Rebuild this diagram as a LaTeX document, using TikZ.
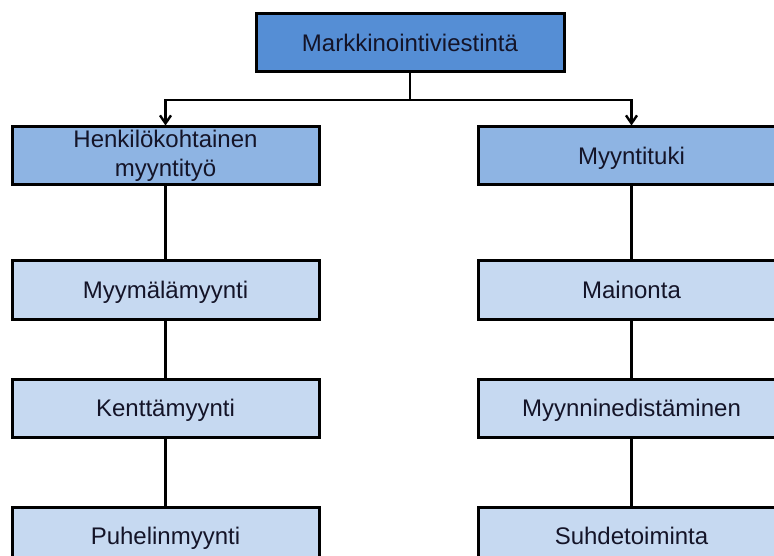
\documentclass[tikz,border=0pt]{standalone}
\usepackage{fontspec}
\setmainfont{Liberation Sans}
\usetikzlibrary{arrows.meta}
\definecolor{topfill}{RGB}{85,142,213}
\definecolor{midfill}{RGB}{142,180,227}
\definecolor{leaffill}{RGB}{198,217,241}
\definecolor{txt}{RGB}{20,20,40}
\tikzset{
  box/.style={draw=black, line width=3pt, minimum width=307pt, minimum height=58pt,
    inner sep=0pt, align=center, text=txt, font=\fontsize{24}{29}\selectfont},
  oneline/.style={text height=22pt, text depth=5pt},
  topbox/.style={box, oneline, fill=topfill, minimum width=308pt},
  midbox/.style={box, fill=midfill},
  leafbox/.style={box, oneline, fill=leaffill},
  conn/.style={draw=black, line width=2.4pt},
  arr/.style={conn, -{Straight Barb[length=8pt,width=11pt,line width=2.4pt]}}
}
\begin{document}
\begin{tikzpicture}[x=1pt,y=-1pt]
\useasboundingbox (0,0) rectangle (774,556);
\clip (0,0) rectangle (774,556);
\fill[white] (0,0) rectangle (774,556);
\node[topbox] (top) at (410,43) {Markkinointiviestintä};
\node[midbox] (h1) at (165.5,156) {Henkilökohtainen\\myyntityö};
\node[midbox, oneline] (r1) at (631.5,156) {Myyntituki};
\node[leafbox] (h2) at (165.5,290) {Myymälämyynti};
\node[leafbox] (r2) at (631.5,290) {Mainonta};
\node[leafbox] (h3) at (165.5,408) {Kenttämyynti};
\node[leafbox] (r3) at (631.5,408) {Myynninedistäminen};
\node[leafbox] (h4) at (165.5,536) {Puhelinmyynti};
\node[leafbox] (r4) at (631.5,536) {Suhdetoiminta};
\coordinate (j) at (410,100);
\draw[conn] (top) -- (j);
\draw[arr] (j) -| (h1);
\draw[arr] (j) -| (r1);
\draw[conn] (h1) -- (h2);
\draw[conn] (h2) -- (h3);
\draw[conn] (h3) -- (h4);
\draw[conn] (r1) -- (r2);
\draw[conn] (r2) -- (r3);
\draw[conn] (r3) -- (r4);
\end{tikzpicture}
\end{document}
